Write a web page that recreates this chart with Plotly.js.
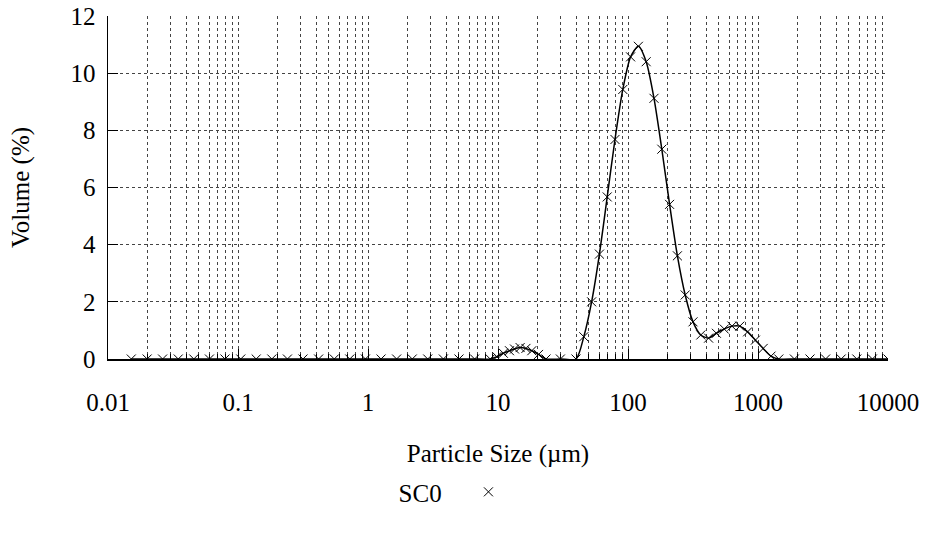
<!DOCTYPE html>
<html>
<head>
<meta charset="utf-8">
<script src="https://cdn.plot.ly/plotly-3.0.1.min.js"></script>
<style>html,body{margin:0;padding:0;background:#fff;}#chart{width:930px;height:535px;}</style>
</head>
<body>
<div id="chart"></div>
<script>
// Particle size (µm) and volume (%)
const sizeUm = [
  0.0151, 0.0200, 0.0263, 0.0347, 0.0457, 0.0603, 0.0794, 0.105, 0.138, 0.182,
  0.240, 0.316, 0.417, 0.550, 0.724, 0.955, 1.26, 1.66, 2.19, 2.88,
  3.80, 5.01, 6.61, 8.71,
  9.79, 11.0, 12.25, 13.4, 14.8, 16.4, 18.2, 20.5, 23.4, 30.2, 39.8,
  45.7, 52.5, 60.3, 69.2, 79.4, 91.2, 104.7, 120.2, 138.0, 158.5,
  182.0, 208.9, 239.9, 275.4, 316.2, 363.1, 416.9, 478.6, 549.5, 631.0,
  724.4, 831.8, 955.0, 1096.5, 1258.9, 1445.4,
  1905.5, 2511.9, 3311.3, 4365.2, 5754.4, 7585.8, 10000
];
const volumePct = [
  0, 0, 0, 0, 0, 0, 0, 0, 0, 0,
  0, 0, 0, 0, 0, 0, 0, 0, 0, 0,
  0, 0, 0, 0,
  0.08, 0.20, 0.29, 0.35, 0.40, 0.37, 0.29, 0.16, 0, 0, 0,
  0.78, 2.00, 3.67, 5.67, 7.68, 9.43, 10.57, 10.94, 10.40, 9.12,
  7.34, 5.41, 3.61, 2.24, 1.30, 0.84, 0.73, 0.90, 1.05, 1.15,
  1.15, 0.95, 0.66, 0.37, 0.10, 0,
  0, 0, 0, 0, 0, 0, 0
];
const xTickVals = [0.01, 0.1, 1, 10, 100, 1000, 10000];
const xTickText = ['0.01', '0.1', '1', '10', '100', '1000', '10000'];
const seriesName = 'SC0';

const FONT = 'Liberation Serif, Times New Roman, serif';
const FS = 25;

const traces = [
  {
    x: sizeUm, y: volumePct, type: 'scatter', mode: 'lines',
    line: {color: '#000', width: 1.5, shape: 'spline', smoothing: 0.7},
    showlegend: false, hoverinfo: 'skip'
  },
  {
    x: sizeUm, y: volumePct, type: 'scatter', mode: 'markers',
    name: '',
    marker: {symbol: 'x-thin', size: 9, color: '#000', line: {color: '#000', width: 1}},
    showlegend: true
  }
];

const layout = {
  width: 930, height: 535,
  margin: {l: 108, r: 42, t: 16, b: 176},
  paper_bgcolor: '#fff', plot_bgcolor: '#fff',
  font: {family: FONT, size: FS, color: '#000'},
  showlegend: true,
  legend: {
    title: {text: seriesName + '\u00a0\u00a0\u00a0', side: 'left', font: {family: FONT, size: FS, color: '#000'}},
    orientation: 'h', x: 0.37, xanchor: 'left', y: -0.388, yanchor: 'middle',
    bgcolor: 'rgba(0,0,0,0)'
  },
  xaxis: {
    type: 'log', range: [-2, 4],
    tickvals: xTickVals, ticktext: xTickText,
    ticks: 'inside', ticklen: 10, tickcolor: '#000', tickwidth: 1,
    showline: true, linecolor: '#000', linewidth: 1.5, mirror: false,
    showgrid: true, gridcolor: '#444', griddash: 'dot', gridwidth: 1,
    zeroline: false, ticklabelstandoff: 20,
    tickfont: {family: FONT, size: FS, color: '#000'},
    minor: {dtick: 'D1', ticks: 'inside', ticklen: 5, tickcolor: '#000',
            showgrid: true, gridcolor: '#444', griddash: 'dot', gridwidth: 1},
    title: {text: 'Particle Size (µm)', font: {family: FONT, size: FS, color: '#000'}, standoff: 30}
  },
  yaxis: {
    range: [0, 12], dtick: 2, tick0: 0,
    ticks: 'inside', ticklen: 10, tickcolor: '#000',
    showline: true, linecolor: '#000', linewidth: 1.5, mirror: false,
    showgrid: true, gridcolor: '#444', griddash: 'dot', gridwidth: 1,
    zeroline: false, ticklabelstandoff: 6,
    tickfont: {family: FONT, size: FS, color: '#000'},
    title: {text: 'Volume (%)', font: {family: FONT, size: FS, color: '#000'}, standoff: 34}
  }
};

Plotly.newPlot('chart', traces, layout, {displayModeBar: false, staticPlot: true});
</script>
</body>
</html>
